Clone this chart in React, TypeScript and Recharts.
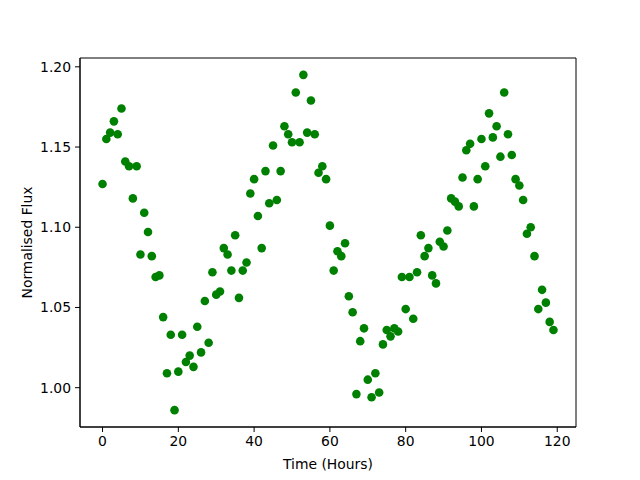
import React from 'react';
import { ScatterChart, Scatter, XAxis, YAxis, ReferenceArea } from 'recharts';

// hours since start of observation
const hours = [
  0, 1, 2, 3, 4, 5, 6, 7, 8, 9, 10, 11, 12, 13, 14, 15, 16, 17, 18, 19,
  20, 21, 22, 23, 24, 25, 26, 27, 28, 29, 30, 31, 32, 33, 34, 35, 36, 37, 38, 39,
  40, 41, 42, 43, 44, 45, 46, 47, 48, 49, 50, 51, 52, 53, 54, 55, 56, 57, 58, 59,
  60, 61, 62, 63, 64, 65, 66, 67, 68, 69, 70, 71, 72, 73, 74, 75, 76, 77, 78, 79,
  80, 81, 82, 83, 84, 85, 86, 87, 88, 89, 90, 91, 92, 93, 94, 95, 96, 97, 98, 99,
  100, 101, 102, 103, 104, 105, 106, 107, 108, 109, 110, 111, 112, 113, 114, 115, 116, 117, 118, 119,
];

// normalised flux
const flux = [
  1.127, 1.155, 1.159, 1.166, 1.158, 1.174, 1.141, 1.138, 1.118, 1.138,
  1.083, 1.109, 1.097, 1.082, 1.069, 1.070, 1.044, 1.009, 1.033, 0.986,
  1.010, 1.033, 1.016, 1.020, 1.013, 1.038, 1.022, 1.054, 1.028, 1.072,
  1.058, 1.060, 1.087, 1.083, 1.073, 1.095, 1.056, 1.073, 1.078, 1.121,
  1.130, 1.107, 1.087, 1.135, 1.115, 1.151, 1.117, 1.135, 1.163, 1.158,
  1.153, 1.184, 1.153, 1.195, 1.159, 1.179, 1.158, 1.134, 1.138, 1.130,
  1.101, 1.073, 1.085, 1.082, 1.090, 1.057, 1.047, 0.996, 1.029, 1.037,
  1.005, 0.994, 1.009, 0.997, 1.027, 1.036, 1.032, 1.037, 1.035, 1.069,
  1.049, 1.069, 1.043, 1.072, 1.095, 1.082, 1.087, 1.070, 1.065, 1.091,
  1.088, 1.098, 1.118, 1.116, 1.113, 1.131, 1.148, 1.152, 1.113, 1.130,
  1.155, 1.138, 1.171, 1.156, 1.163, 1.144, 1.184, 1.158, 1.145, 1.130,
  1.126, 1.117, 1.096, 1.100, 1.082, 1.049, 1.061, 1.053, 1.041, 1.036,
];

const xTicks = [0, 20, 40, 60, 80, 100, 120];
const yTicks = [1.0, 1.05, 1.1, 1.15, 1.2];

const xDomain = [-5.95, 124.95];
const yDomain = [0.9755, 1.2055];

const data = hours.map((h, i) => ({ time: h, flux: flux[i] }));

const font = 'DejaVu Sans, sans-serif';
const tickStyle = { fontSize: 13.9, fill: '#000', fontFamily: font };

const Dot = (props: any) => <circle cx={props.cx} cy={props.cy} r={4.3} fill="#008000" />;

export default function App() {
  return (
    <div style={{ position: 'absolute', left: 0, top: 0, width: 640, height: 480, background: '#fff' }}>
      <ScatterChart width={640} height={480} margin={{ top: 58, right: 64, left: 0, bottom: 0 }}>
        <XAxis
          type="number"
          dataKey="time"
          domain={xDomain}
          ticks={xTicks}
          allowDataOverflow
          height={53}
          tick={tickStyle}
          tickSize={5}
          tickMargin={4}
          stroke="#000"
          label={{ value: 'Time (Hours)', position: 'insideBottom', offset: 11, style: { fontSize: 13.9, fill: '#000', fontFamily: font } }}
        />
        <YAxis
          type="number"
          dataKey="flux"
          domain={yDomain}
          ticks={yTicks}
          allowDataOverflow
          width={80}
          tick={tickStyle}
          tickSize={5}
          tickMargin={4}
          tickFormatter={(v: number) => v.toFixed(2)}
          stroke="#000"
          label={{ value: 'Normalised Flux', angle: -90, position: 'insideLeft', offset: 27, style: { textAnchor: 'middle', fontSize: 13.9, fill: '#000', fontFamily: font } }}
        />
        {/* frame around the plot area, like matplotlib spines */}
        <ReferenceArea
          x1={xDomain[0]}
          x2={xDomain[1]}
          y1={yDomain[0]}
          y2={yDomain[1]}
          fill="none"
          stroke="#000"
          strokeWidth={1}
          ifOverflow="visible"
        />
        <Scatter data={data} shape={Dot} isAnimationActive={false} />
      </ScatterChart>
    </div>
  );
}
